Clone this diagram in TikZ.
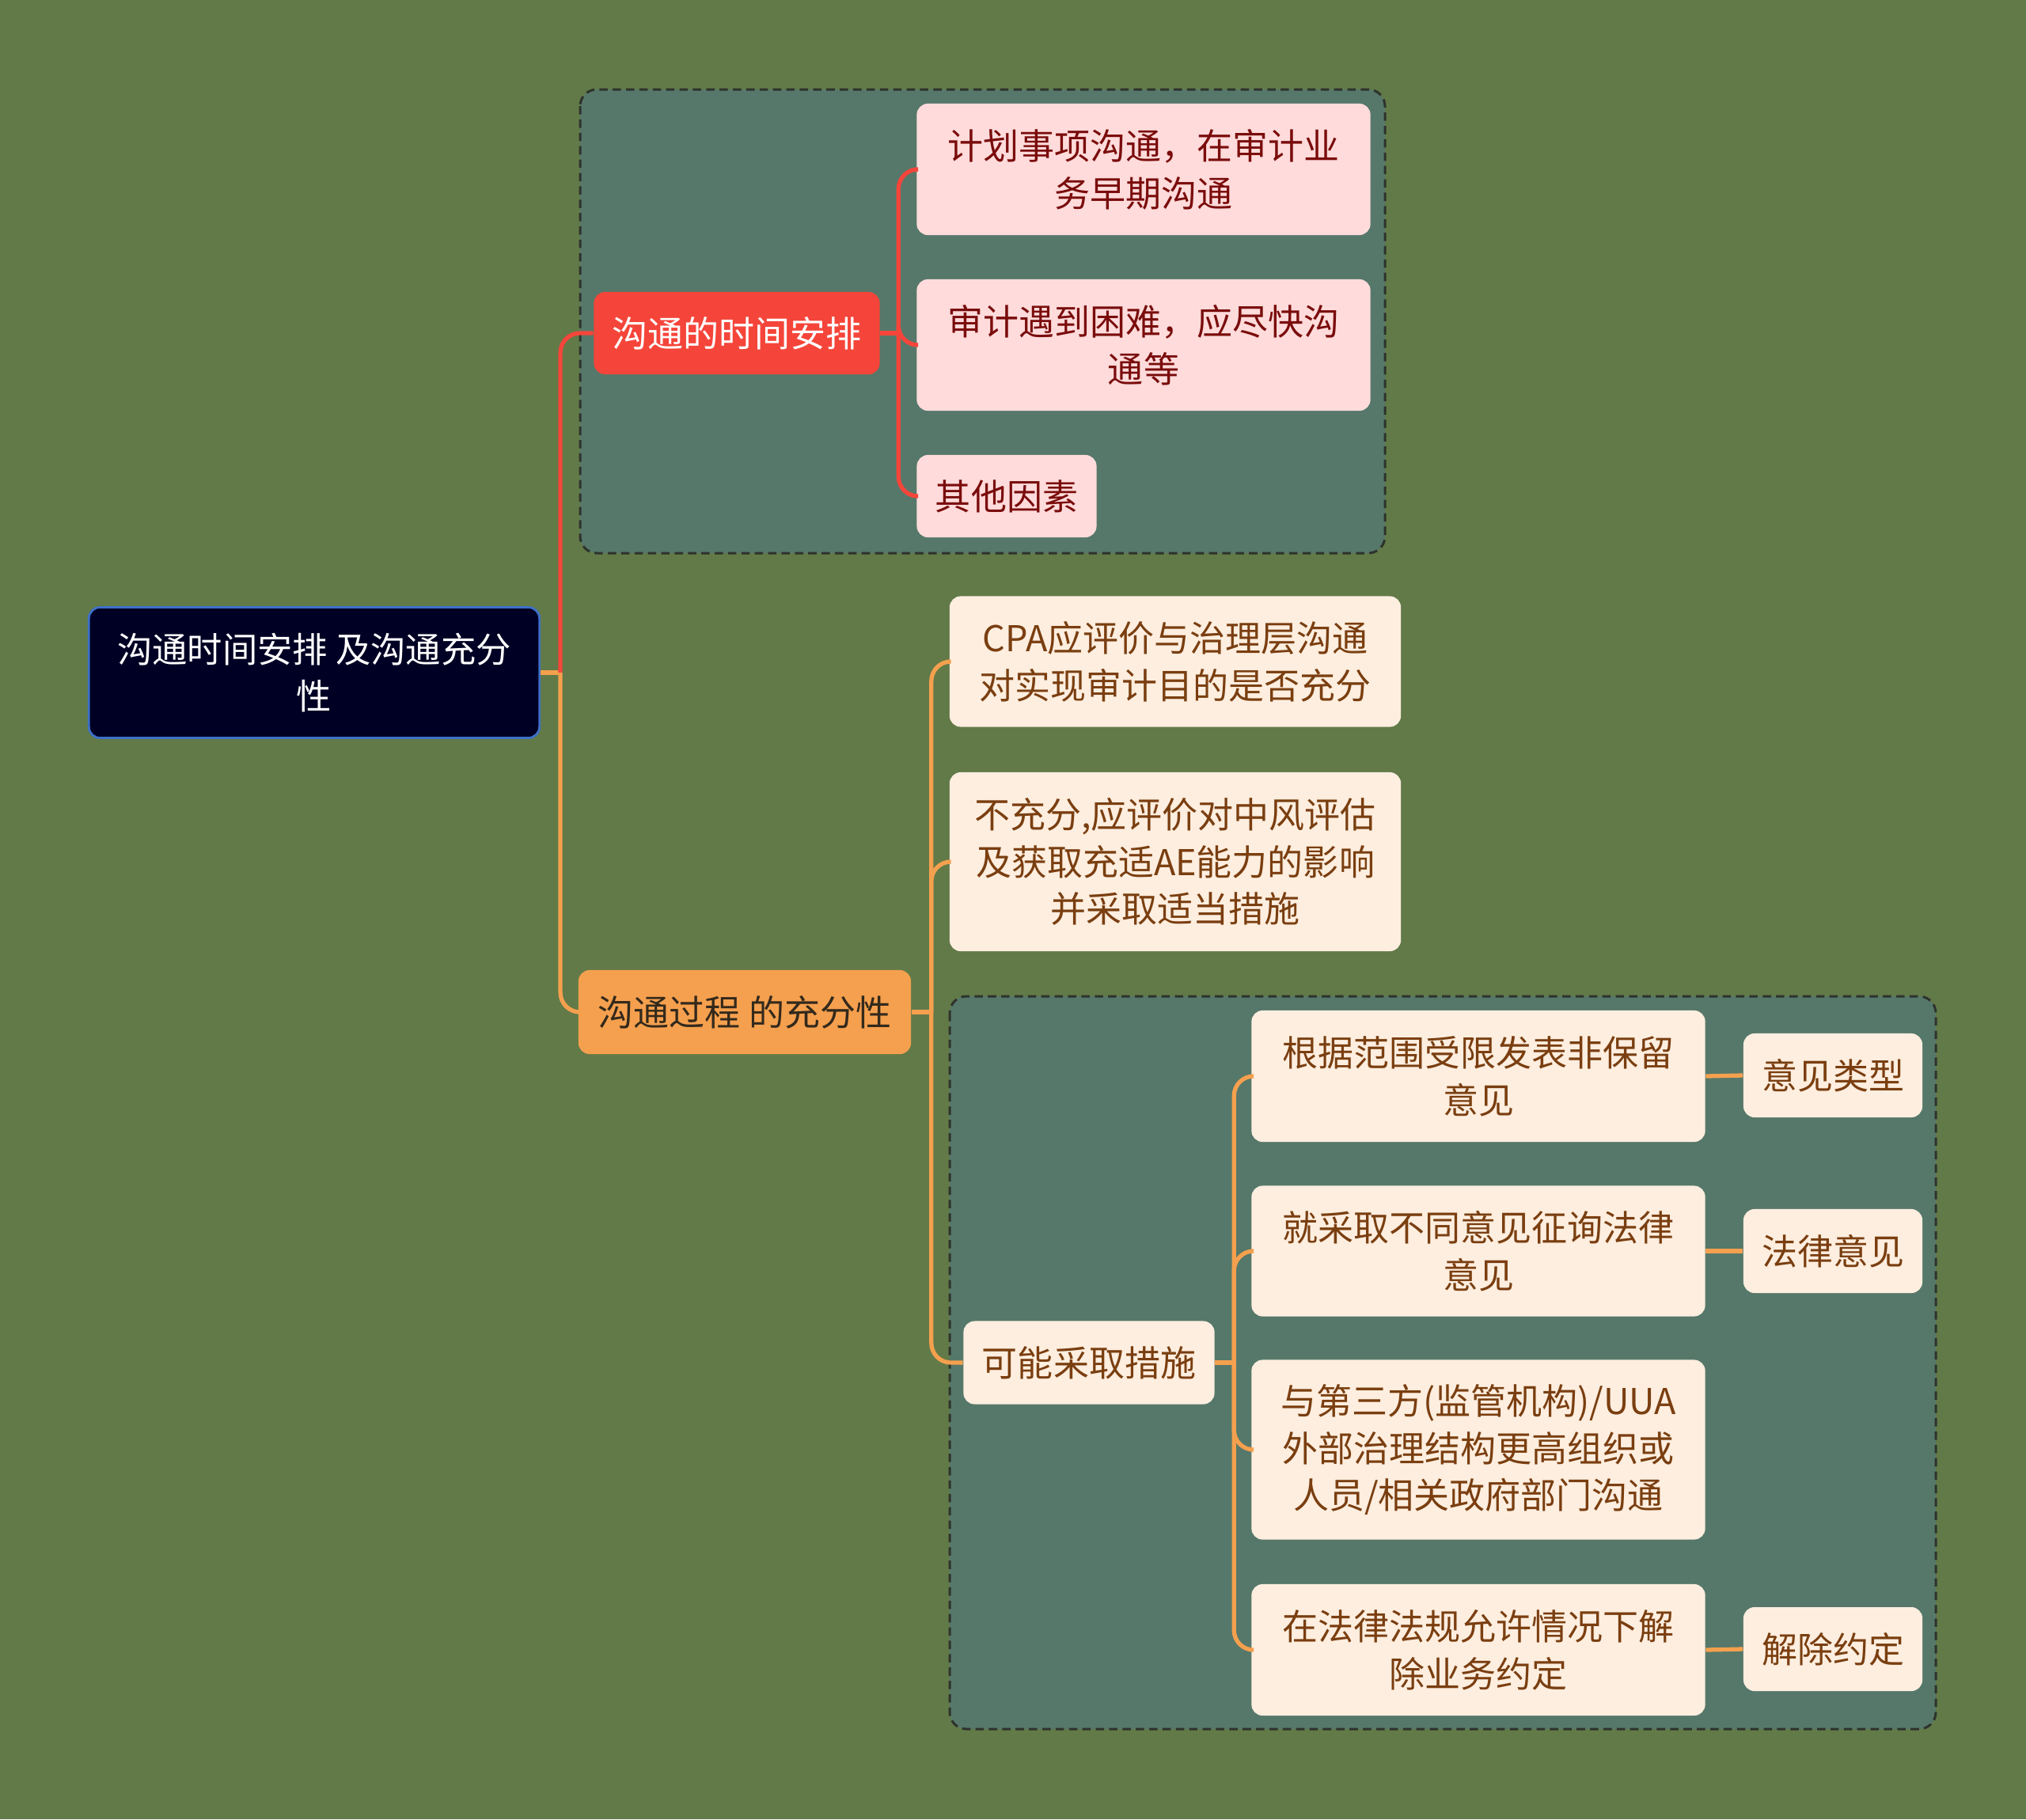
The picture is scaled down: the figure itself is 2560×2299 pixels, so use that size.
\documentclass[tikz,border=0pt]{standalone}
\usepackage{fontspec}
\setmainfont{Noto Sans CJK SC}
\usetikzlibrary{positioning}

\definecolor{bgolive}{HTML}{627A48}
\definecolor{groupfill}{HTML}{56786A}
\definecolor{groupline}{HTML}{2E332C}
\definecolor{rootfill}{HTML}{000024}
\definecolor{rootline}{HTML}{3E70C8}
\definecolor{redfill}{HTML}{F5453A}
\definecolor{pinkfill}{HTML}{FFDBDB}
\definecolor{darkred}{HTML}{7A0C0C}
\definecolor{orangefill}{HTML}{F5A04E}
\definecolor{creamfill}{HTML}{FDEEDF}
\definecolor{browntext}{HTML}{7A3E10}
\definecolor{darktext}{HTML}{33291C}

\begin{document}
\begin{tikzpicture}[x=0.01cm, y=-0.01cm,
        every node/.style={font=\fontsize{12.8}{17}\selectfont, align=center, inner sep=0pt, rounded corners=4pt},
        rootbox/.style={fill=rootfill, draw=rootline, line width=0.8pt, text=white, font=\fontsize{12.6}{17}\selectfont, minimum width=5.69cm, minimum height=1.65cm},
        redtopic/.style={fill=redfill, text=white, minimum height=1.04cm},
        redleaf/.style={fill=pinkfill, text=darkred, minimum height=1.66cm},
        orangetopic/.style={fill=orangefill, text=darktext, minimum height=1.06cm},
        creamleaf/.style={fill=creamfill, text=browntext, minimum height=1.66cm},
        groupbox/.style={draw=groupline, fill=groupfill, line width=0.85pt, dash pattern=on 3pt off 1.8pt, rounded corners=6pt},
        redline/.style={draw=redfill, line width=1.5pt, rounded corners=7pt},
        orangeline/.style={draw=orangefill, line width=1.5pt, rounded corners=7pt}]

        % background and dashed groups
        \fill[bgolive] (0,0) rectangle (2560,2299);
        \path[groupbox] (733,113) rectangle (1750,699);
        \path[groupbox] (1200,1259) rectangle (2446,2185);

        % root and first branch
        \node [rootbox] (root) at (397,850) {沟通时间安排 及沟通充分\\性};
        \node [redtopic, minimum width=3.61cm] (timing) at (931,421) {沟通的时间安排};
        \node [redleaf, minimum width=5.73cm] (plan) at (1445,214) {计划事项沟通，在审计业\\务早期沟通};
        \node [redleaf, minimum width=5.73cm] (trouble) at (1445,436) {审计遇到困难，应尽快沟\\通等};
        \node [redleaf, minimum width=2.27cm, minimum height=1.04cm] (other) at (1272,627) {其他因素};

        % second branch
        \node [orangetopic, minimum width=4.20cm] (enough) at (941,1279) {沟通过程 的充分性};
        \node [creamleaf, minimum width=5.70cm, minimum height=1.65cm] (judge) at (1485,836) {CPA应评价与治理层沟通\\对实现审计目的是否充分};
        \node [creamleaf, minimum width=5.70cm, minimum height=2.26cm] (lack) at (1485,1089) {不充分,应评价对中风评估\\及获取充适AE能力的影响\\并采取适当措施};
        \node [creamleaf, minimum width=3.17cm, minimum height=1.05cm] (steps) at (1376,1722) {可能采取措施};
        \node [creamleaf, minimum width=5.73cm] (limit) at (1868,1360) {根据范围受限发表非保留\\意见};
        \node [creamleaf, minimum width=5.73cm, minimum height=1.65cm] (legal) at (1868,1581) {就采取不同意见征询法律\\意见};
        \node [creamleaf, minimum width=5.73cm, minimum height=2.27cm] (third) at (1868,1832) {与第三方(监管机构)/UUA\\外部治理结构更高组织或\\人员/相关政府部门沟通};
        \node [creamleaf, minimum width=5.73cm] (quit) at (1868,2085) {在法律法规允许情况下解\\除业务约定};
        \node [creamleaf, minimum width=2.26cm, minimum height=1.06cm] (optype) at (2316,1359) {意见类型};
        \node [creamleaf, minimum width=2.26cm, minimum height=1.06cm] (lawop) at (2316,1581) {法律意见};
        \node [creamleaf, minimum width=2.26cm, minimum height=1.06cm] (endjob) at (2316,2084) {解除约定};

        % junction points
        \coordinate (rootj) at ([xshift=0.25cm]root.east);
        \coordinate (timingj) at ([xshift=0.23cm]timing.east);
        \coordinate (enoughj) at ([xshift=0.25cm]enough.east);
        \coordinate (stepsj) at ([xshift=0.24cm]steps.east);

        % connectors
        \path [orangeline] (root.east) -- (rootj);
        \path [redline] (rootj) |- (timing.west);
        \path [orangeline] (rootj) |- (enough.west);

        \path [redline] (timing.east) -- (timingj);
        \path [redline] (timingj) |- (plan.west);
        \path [redline] (timingj) |- (trouble.west);
        \path [redline] (timingj) |- (other.west);

        \path [orangeline] (enough.east) -- (enoughj);
        \path [orangeline] (enoughj) |- (judge.west);
        \path [orangeline] (enoughj) |- (lack.west);
        \path [orangeline] (enoughj) |- (steps.west);

        \path [orangeline] (steps.east) -- (stepsj);
        \path [orangeline] (stepsj) |- (limit.west);
        \path [orangeline] (stepsj) |- (legal.west);
        \path [orangeline] (stepsj) |- (third.west);
        \path [orangeline] (stepsj) |- (quit.west);

        \path [orangeline] (limit.east) -- (optype.west);
        \path [orangeline] (legal.east) -- (lawop.west);
        \path [orangeline] (quit.east) -- (endjob.west);
    \end{tikzpicture}
\end{document}
